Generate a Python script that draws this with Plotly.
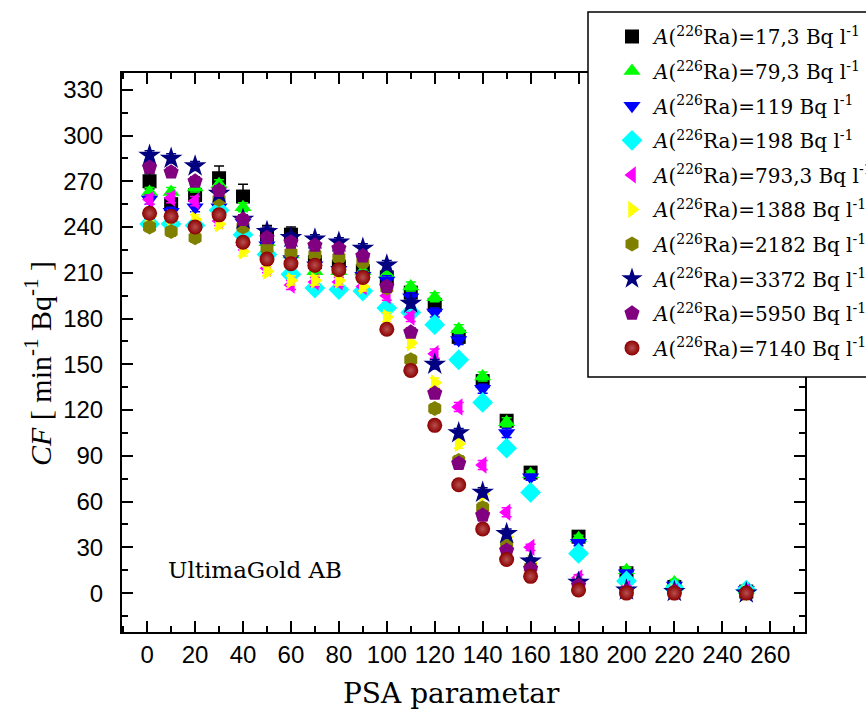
import plotly.graph_objects as go

psa = [1, 10, 20, 30, 40, 50, 60, 70, 80, 90, 100, 110, 120, 130, 140, 150, 160, 180, 200, 220, 250]

cf_17_3 = [270, 255, 261, 272, 260, 235, 235, 217, 214, 211, 207, 197, 189, 168, 139, 113, 79, 37, 13, 4, 1]
cf_79_3 = [263, 263, 266, 268, 253, 230, 222, 211, 211, 211, 209, 201, 194, 173, 142, 112, 78, 36, 15, 7, 2]
cf_119 = [258, 250, 253, 253, 243, 228, 219, 215, 212, 208, 205, 194, 184, 166, 134, 105, 76, 33, 13, 5, 2]
cf_198 = [242, 242, 241, 251, 235, 222, 209, 200, 199, 198, 187, 184, 176, 153, 125, 95, 66, 26, 8, 3, 2]
cf_793_3 = [258, 259, 257, 244, 228, 213, 202, 204, 204, 201, 195, 181, 157, 122, 84, 53, 30, 10, 3, 1, 1]
cf_1388 = [247, 246, 245, 242, 224, 211, 205, 205, 205, 201, 181, 164, 138, 98, 65, 37, 20, 6, 1, 1, 0]
cf_2182 = [240, 237, 233, 258, 240, 226, 223, 222, 220, 217, 200, 153, 121, 87, 56, 31, 17, 4, 1, 0, 0]
cf_3372 = [287, 285, 280, 262, 245, 237, 233, 232, 230, 226, 215, 190, 150, 105, 66, 39, 21, 7, 2, 1, 0]
cf_5950 = [279, 276, 270, 264, 245, 233, 230, 228, 226, 221, 201, 171, 131, 85, 51, 28, 16, 5, 1, 1, 0]
cf_7140 = [249, 247, 240, 248, 230, 219, 216, 215, 212, 207, 173, 146, 110, 71, 42, 22, 11, 2, 0, 0, 0]

err_17_3 = [5, 4, 4, 8, 8, 6, 5, 4, 4, 4, 4, 4, 4, 3, 3, 3, 2, 2, 1, 1, 1]
err_other = [3, 3, 3, 3, 3, 3, 3, 3, 3, 3, 3, 3, 3, 3, 3, 3, 2, 2, 2, 2, 2]

labels = ["17,3", "79,3", "119", "198", "793,3", "1388", "2182", "3372", "5950", "7140"]
series = [cf_17_3, cf_79_3, cf_119, cf_198, cf_793_3, cf_1388, cf_2182, cf_3372, cf_5950, cf_7140]
errors = [err_17_3] + [err_other] * 9
colors = ["#000000", "#00FF00", "#0000FF", "#00FFFF", "#FF00FF", "#FFFF00",
          "#808000", "#000080", "#800080", "#8B0000"]
symbols = ["square", "triangle-up", "triangle-down", "diamond", "triangle-left",
           "triangle-right", "hexagon", "star", "pentagon", "circle"]
sizes = [14, 15, 15, 16, 15, 15, 15, 17, 16, 15]

fig = go.Figure()
for i, (lab, ys, err) in enumerate(zip(labels, series, errors)):
    marker = dict(symbol=symbols[i], color=colors[i], size=sizes[i], line=dict(width=0))
    if symbols[i] == "circle":
        marker["gradient"] = dict(type="radial", color="#b85050")
    fig.add_trace(go.Scatter(
        x=psa, y=ys, mode="markers",
        name="<i>A</i>(<sup>226</sup>Ra)=" + lab + " Bq l<sup>-1</sup>",
        legendgroup="g%d" % i,
        marker=marker,
        error_y=dict(type="data", array=err, visible=True, color=colors[i],
                     thickness=1.5, width=5),
    ))

axis_common = dict(
    showline=True, linecolor="black", linewidth=2, mirror="allticks",
    ticks="inside", ticklen=11, tickwidth=2, tickcolor="black",
    showgrid=False, zeroline=False,
    tickfont=dict(family="Liberation Sans", size=24, color="black"),
)

fig.update_xaxes(range=[-10.5, 274.5], tick0=0, dtick=20,
                 minor=dict(dtick=10, ticks="inside", ticklen=6, tickwidth=2, tickcolor="black"),
                 **axis_common)
fig.update_yaxes(range=[-25.5, 341], tick0=0, dtick=30,
                 minor=dict(dtick=15, ticks="inside", ticklen=6, tickwidth=2, tickcolor="black"),
                 ticklabelstandoff=12,
                 **axis_common)

# axis titles as annotations (positioned as in the reference)
fig.add_annotation(x=(451 - 122) / 683, y=(632 - 693) / 559, xref="paper", yref="paper",
                   xanchor="center", yanchor="middle",
                   text="PSA parametar", showarrow=False,
                   font=dict(family="DejaVu Serif", size=28, color="black"))
fig.add_annotation(x=(38 - 122) / 683, y=(632 - 364) / 559, xref="paper", yref="paper",
                   xanchor="center", yanchor="middle",
                   text="<i>CF</i> [ min<sup>-1</sup> Bq<sup>-1</sup> ]", textangle=-90,
                   showarrow=False,
                   font=dict(family="Liberation Serif", size=30, color="black"))

fig.add_annotation(x=8, y=15, xref="x", yref="y", xanchor="left", yanchor="middle",
                   text="UltimaGold AB", showarrow=False,
                   font=dict(family="DejaVu Serif", size=23, color="black"))

# legend frame (white box covering plot behind legend)
fig.add_shape(type="rect", xref="paper", yref="paper",
              x0=(588 - 122) / 683, x1=(870 - 122) / 683,
              y0=(632 - 377) / 559, y1=(632 - 12) / 559,
              line=dict(color="black", width=1.5), fillcolor="white", layer="above")

fig.update_layout(
    width=866, height=711,
    margin=dict(l=122, r=61, t=73, b=79, autoexpand=False),
    plot_bgcolor="white", paper_bgcolor="white",
    legend=dict(x=(610 - 122) / 683, y=(632 - 17) / 559, xanchor="left", yanchor="top",
                bgcolor="rgba(0,0,0,0)", borderwidth=0,
                font=dict(family="DejaVu Serif", size=20, color="black"),
                itemwidth=34, tracegroupgap=5.6),
)

fig.write_html("out.html")
